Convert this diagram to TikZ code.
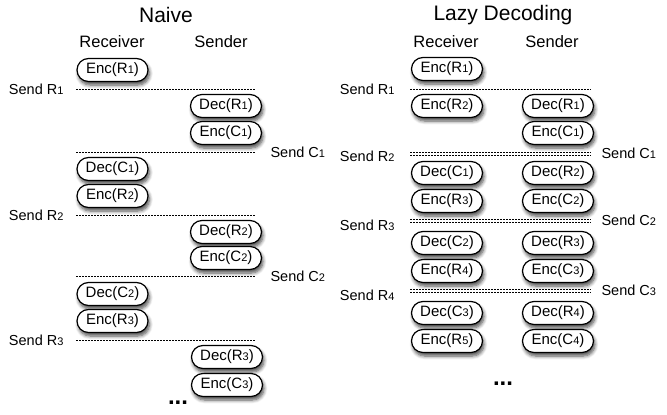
\documentclass[tikz,border=0pt]{standalone}
\usepackage{fontspec}
\setmainfont{Liberation Sans}
\usetikzlibrary{shadows.blur,shapes.misc}
\newcommand{\dg}[1]{{\fontsize{11}{11}\selectfont #1}}
\tikzset{
  op/.style={draw, line width=1.2pt, rounded rectangle, fill=white,
    minimum width=71pt, minimum height=23pt, inner sep=0pt,
    font=\fontsize{15}{17}\selectfont,
    blur shadow={shadow xshift=1.5pt, shadow yshift=-3.5pt, shadow blur steps=6, shadow opacity=70, shadow blur radius=3.5pt}},
  title/.style={font=\fontsize{21}{24}\selectfont},
  head/.style={font=\fontsize{16.5}{19}\selectfont},
  lbl/.style={font=\fontsize{14.5}{17}\selectfont},
  sline/.style={line width=0.8pt, dash pattern=on 2pt off 1pt},
  dots/.style={font=\fontsize{24}{24}\bfseries\selectfont}
}
\begin{document}
\begin{tikzpicture}[x=1pt,y=-1pt]
\useasboundingbox (0,0) rectangle (667,415);
% ---------- Naive ----------
\node[title] (t1) at (166,15) {Naive};
\node[head] (h1r) at (112,42) {Receiver};
\node[head] (h1s) at (221,42) {Sender};
\node[op] (a1) at (112.5,70) {Enc(R\dg{1})};
\coordinate (l1a) at (76,89); \coordinate (l1b) at (255,89);
\draw[sline] (l1a) -- (l1b);
\node[lbl, anchor=east] (s1) at (67,89) {Send R\dg{1}};
\node[op] (a2) at (226,106) {Dec(R\dg{1})};
\node[op] (a3) at (226,133) {Enc(C\dg{1})};
\coordinate (l2a) at (76,152); \coordinate (l2b) at (255,152);
\draw[sline] (l2a) -- (l2b);
\node[lbl, anchor=west] (s2) at (267,152) {Send C\dg{1}};
\node[op] (a4) at (112.5,169) {Dec(C\dg{1})};
\node[op] (a5) at (112.5,196) {Enc(R\dg{2})};
\coordinate (l3a) at (76,215); \coordinate (l3b) at (255,215);
\draw[sline] (l3a) -- (l3b);
\node[lbl, anchor=east] (s3) at (67,215) {Send R\dg{2}};
\node[op] (a6) at (226,232) {Dec(R\dg{2})};
\node[op] (a7) at (226,258) {Enc(C\dg{2})};
\coordinate (l4a) at (76,276); \coordinate (l4b) at (255,276);
\draw[sline] (l4a) -- (l4b);
\node[lbl, anchor=west] (s4) at (267,276) {Send C\dg{2}};
\node[op] (a8) at (112.5,294) {Dec(C\dg{2})};
\node[op] (a9) at (112.5,321) {Enc(R\dg{3})};
\coordinate (l5a) at (76,340); \coordinate (l5b) at (255,340);
\draw[sline] (l5a) -- (l5b);
\node[lbl, anchor=east] (s5) at (67,340) {Send R\dg{3}};
\node[op] (a10) at (227,357) {Dec(R\dg{3})};
\node[op] (a11) at (227,385) {Enc(C\dg{3})};
\node[dots] (d1) at (178,403) {...};
% ---------- Lazy ----------
\node[title] (t2) at (503,15) {Lazy Decoding};
\node[head] (h2r) at (446,42) {Receiver};
\node[head] (h2s) at (552,42) {Sender};
\node[op] (b1) at (447,69) {Enc(R\dg{1})};
\coordinate (m1a) at (410,89); \coordinate (m1b) at (591,89);
\draw[sline] (m1a) -- (m1b);
\node[lbl, anchor=east] (r1) at (398,89) {Send R\dg{1}};
\node[op] (b2) at (447,106) {Enc(R\dg{2})};
\node[op] (c1) at (558,106) {Dec(R\dg{1})};
\node[op] (c2) at (558,133) {Enc(C\dg{1})};
\coordinate (m2a) at (410,152.5); \coordinate (m2b) at (591,152.5);
\coordinate (m2c) at (410,155.5); \coordinate (m2d) at (591,155.5);
\draw[sline] (m2a) -- (m2b);
\draw[sline] (m2c) -- (m2d);
\node[lbl, anchor=east] (r2) at (398,156) {Send R\dg{2}};
\node[lbl, anchor=west] (q1) at (598,153) {Send C\dg{1}};
\node[op] (b3) at (447,173) {Dec(C\dg{1})};
\node[op] (b4) at (447,201) {Enc(R\dg{3})};
\node[op] (c3) at (558,173) {Dec(R\dg{2})};
\node[op] (c4) at (558,201) {Enc(C\dg{2})};
\coordinate (m3a) at (410,219.5); \coordinate (m3b) at (591,219.5);
\coordinate (m3c) at (410,222.5); \coordinate (m3d) at (591,222.5);
\draw[sline] (m3a) -- (m3b);
\draw[sline] (m3c) -- (m3d);
\node[lbl, anchor=east] (r3) at (398,225) {Send R\dg{3}};
\node[lbl, anchor=west] (q2) at (598,220) {Send C\dg{2}};
\node[op] (b5) at (447,243) {Dec(C\dg{2})};
\node[op] (b6) at (447,271) {Enc(R\dg{4})};
\node[op] (c5) at (558,243) {Dec(R\dg{3})};
\node[op] (c6) at (558,271) {Enc(C\dg{3})};
\coordinate (m4a) at (410,289.5); \coordinate (m4b) at (591,289.5);
\coordinate (m4c) at (410,292.5); \coordinate (m4d) at (591,292.5);
\draw[sline] (m4a) -- (m4b);
\draw[sline] (m4c) -- (m4d);
\node[lbl, anchor=east] (r4) at (398,295) {Send R\dg{4}};
\node[lbl, anchor=west] (q3) at (598,290) {Send C\dg{3}};
\node[op] (b7) at (447,313) {Dec(C\dg{3})};
\node[op] (b8) at (447,341) {Enc(R\dg{5})};
\node[op] (c7) at (558,313) {Dec(R\dg{4})};
\node[op] (c8) at (558,341) {Enc(C\dg{4})};
\node[dots] (d2) at (503,384) {...};
\end{tikzpicture}
\end{document}
